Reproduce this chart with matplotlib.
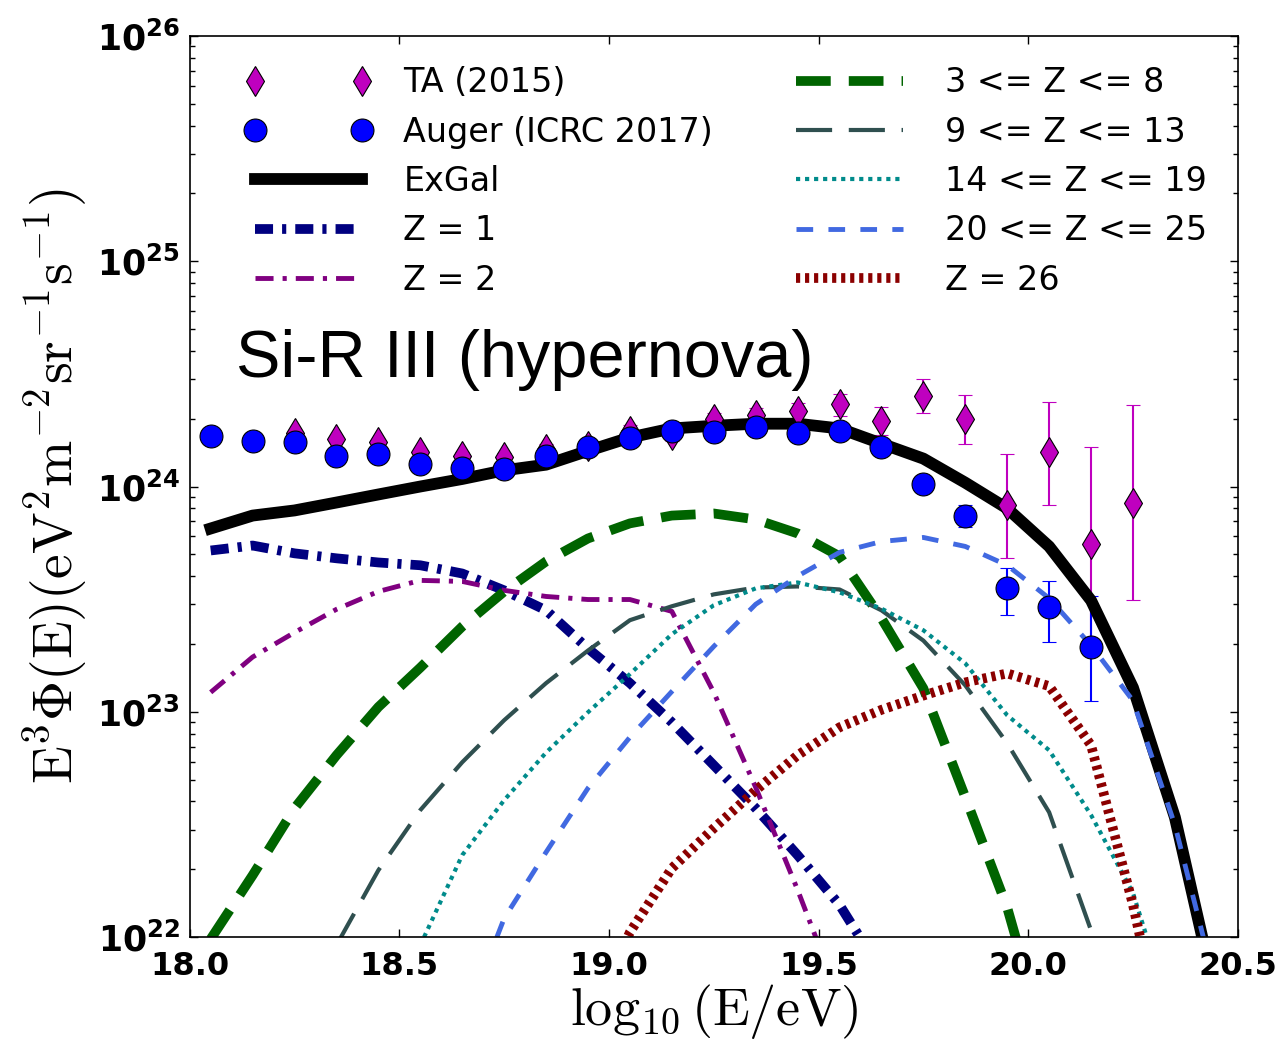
import numpy as np
import matplotlib
matplotlib.use("Agg")
import matplotlib.pyplot as plt
from matplotlib.ticker import LogLocator, NullFormatter

nan = np.nan

# bin centres, log10(E/eV)
log_e = [18.05, 18.15, 18.25, 18.35, 18.45, 18.55, 18.65, 18.75, 18.85, 18.95,
         19.05, 19.15, 19.25, 19.35, 19.45, 19.55, 19.65, 19.75, 19.85, 19.95,
         20.05, 20.15, 20.25, 20.35, 20.45]

# model components, E^3 Phi(E)
exgal = [6.51e23, 7.43e23, 7.83e23, 8.49e23, 9.22e23, 1.00e24, 1.08e24, 1.18e24, 1.25e24, 1.44e24,
         1.65e24, 1.81e24, 1.86e24, 1.90e24, 1.90e24, 1.81e24, 1.55e24, 1.33e24, 1.04e24, 7.99e23,
         5.42e23, 3.12e23, 1.28e23, 3.40e22, 5.2e21]
z1 = [5.20e23, 5.47e23, 5.05e23, 4.80e23, 4.60e23, 4.47e23, 4.11e23, 3.46e23, 2.82e23, 1.91e23,
      1.34e23, 8.98e22, 5.79e22, 3.73e22, 2.31e22, 1.39e22, 7.0e21, nan, nan, nan,
      nan, nan, nan, nan, nan]
z2 = [1.22e23, 1.75e23, 2.25e23, 2.85e23, 3.42e23, 3.83e23, 3.79e23, 3.46e23, 3.25e23, 3.15e23,
      3.15e23, 2.79e23, 1.22e23, 4.62e22, 1.62e22, 5.3e21, nan, nan, nan, nan,
      nan, nan, nan, nan, nan]
z3_8 = [9.8e21, 1.88e22, 3.73e22, 6.41e22, 1.05e23, 1.57e23, 2.39e23, 3.42e23, 4.65e23, 5.88e23,
        6.86e23, 7.43e23, 7.59e23, 7.14e23, 6.19e23, 4.90e23, 2.60e23, 1.27e23, 4.18e22, 1.35e22,
        3.0e21, nan, nan, nan, nan]
z9_13 = [nan, nan, nan, 9.2e21, 1.98e22, 3.66e22, 5.97e22, 9.17e22, 1.34e23, 1.87e23,
         2.55e23, 2.94e23, 3.32e23, 3.56e23, 3.60e23, 3.49e23, 2.82e23, 2.07e23, 1.31e23, 7.25e22,
         3.58e22, 1.07e22, 3.0e21, nan, nan]
z14_19 = [nan, nan, nan, nan, nan, 9.2e21, 2.31e22, 4.05e22, 6.59e22, 9.95e22,
          1.47e23, 2.21e23, 2.97e23, 3.53e23, 3.75e23, 3.39e23, 2.87e23, 2.30e23, 1.64e23, 9.65e22,
          6.75e22, 3.48e22, 1.57e22, 4.0e21, nan]
z20_25 = [nan, nan, nan, nan, nan, nan, 4.0e21, 1.21e22, 2.38e22, 4.58e22,
          7.71e22, 1.23e23, 1.95e23, 3.00e23, 4.00e23, 5.10e23, 5.70e23, 5.94e23, 5.42e23, 4.47e23,
          3.19e23, 1.97e23, 1.12e23, 3.14e22, 5.8e21]
z26 = [nan, nan, nan, nan, nan, nan, nan, nan, nan, 4.0e21,
       1.05e22, 2.02e22, 3.04e22, 4.48e22, 6.41e22, 8.53e22, 1.02e23, 1.18e23, 1.35e23, 1.48e23,
       1.30e23, 7.10e22, 1.39e22, 2.0e21, nan]

# Telescope Array (2015)
ta_e = [18.25, 18.35, 18.45, 18.55, 18.65, 18.75, 18.85, 18.95, 19.05, 19.15, 19.25,
        19.35, 19.45, 19.55, 19.65, 19.75, 19.85, 19.95, 20.05, 20.15, 20.25]
ta_v = [1.72e24, 1.63e24, 1.57e24, 1.42e24, 1.37e24, 1.35e24, 1.47e24, 1.52e24, 1.77e24, 1.70e24, 2.00e24,
        2.07e24, 2.17e24, 2.33e24, 1.96e24, 2.53e24, 2.00e24, 8.24e23, 1.42e24, 5.53e23, 8.41e23]
ta_lo = [1.67e24, 1.58e24, 1.52e24, 1.37e24, 1.32e24, 1.29e24, 1.40e24, 1.44e24, 1.67e24, 1.59e24, 1.87e24,
         1.92e24, 1.99e24, 2.05e24, 1.70e24, 2.11e24, 1.54e24, 4.80e23, 8.24e23, 2.07e23, 3.12e23]
ta_hi = [1.77e24, 1.68e24, 1.62e24, 1.47e24, 1.42e24, 1.41e24, 1.54e24, 1.60e24, 1.87e24, 1.81e24, 2.13e24,
         2.22e24, 2.35e24, 2.58e24, 2.26e24, 3.01e24, 2.56e24, 1.39e24, 2.38e24, 1.50e24, 2.31e24]

# Pierre Auger (ICRC 2017)
auger_e = [18.05, 18.15, 18.25, 18.35, 18.45, 18.55, 18.65, 18.75, 18.85, 18.95, 19.05,
           19.15, 19.25, 19.35, 19.45, 19.55, 19.65, 19.75, 19.85, 19.95, 20.05, 20.15]
auger_v = [1.68e24, 1.60e24, 1.58e24, 1.37e24, 1.39e24, 1.26e24, 1.21e24, 1.20e24, 1.36e24, 1.49e24, 1.65e24,
           1.77e24, 1.75e24, 1.83e24, 1.72e24, 1.77e24, 1.50e24, 1.03e24, 7.43e23, 3.53e23, 2.91e23, 1.93e23]
auger_lo = [1.66e24, 1.58e24, 1.56e24, 1.35e24, 1.37e24, 1.24e24, 1.19e24, 1.18e24, 1.34e24, 1.47e24, 1.62e24,
            1.73e24, 1.71e24, 1.78e24, 1.67e24, 1.70e24, 1.43e24, 9.7e23, 6.58e23, 2.68e23, 2.05e23, 1.12e23]
auger_hi = [1.70e24, 1.62e24, 1.60e24, 1.39e24, 1.41e24, 1.28e24, 1.23e24, 1.22e24, 1.38e24, 1.51e24, 1.68e24,
            1.81e24, 1.79e24, 1.88e24, 1.77e24, 1.84e24, 1.57e24, 1.09e24, 8.3e23, 4.33e23, 3.79e23, 3.25e23]

y_decades = [22, 23, 24, 25, 26]
x_ticks = [18.0, 18.5, 19.0, 19.5, 20.0, 20.5]

plt.rcParams['lines.scale_dashes'] = False
plt.rcParams['mathtext.fontset'] = 'cm'

fig = plt.figure(figsize=(12.82, 10.43), dpi=100)
ax = fig.add_axes([0.148, 0.1016, 0.8175, 0.8639])

ta = ax.errorbar(ta_e, ta_v,
                 yerr=[np.array(ta_v) - np.array(ta_lo), np.array(ta_hi) - np.array(ta_v)],
                 fmt='d', color='m', mec='k', mew=0.8, ms=15.5, ecolor='m',
                 elinewidth=1.5, capsize=5, capthick=1.5)
au = ax.errorbar(auger_e, auger_v,
                 yerr=[np.array(auger_v) - np.array(auger_lo), np.array(auger_hi) - np.array(auger_v)],
                 fmt='o', color='b', mec='k', mew=0.8, ms=16.5, ecolor='b',
                 elinewidth=1.5, capsize=5, capthick=1.5)

h_ex, = ax.plot(log_e, exgal, color='k', lw=8.5, label='ExGal')
h1, = ax.plot(log_e, z1, color='navy', lw=7, ls=(0, (13, 6.5, 3, 6.5)), label='Z = 1')
h2, = ax.plot(log_e, z2, color='purple', lw=3.5, ls=(0, (13, 6.5, 3, 6.5)), label='Z = 2')
h3, = ax.plot(log_e, z3_8, color='darkgreen', lw=7, ls=(0, (25, 13)), label='3 <= Z <= 8')
h4, = ax.plot(log_e, z9_13, color='darkslategray', lw=3, ls=(0, (26, 12)), label='9 <= Z <= 13')
h5, = ax.plot(log_e, z14_19, color='darkcyan', lw=3, ls=(0, (3, 3.5)), label='14 <= Z <= 19')
h6, = ax.plot(log_e, z20_25, color='royalblue', lw=3.5, ls=(0, (12, 11)), label='20 <= Z <= 25')
h7, = ax.plot(log_e, z26, color='darkred', lw=7, ls=(0, (3, 3.5)), label='Z = 26')

ax.set_yscale('log')
ax.set_xlim(18.0, 20.5)
ax.set_ylim(1e22, 1e26)

ax.set_xticks(x_ticks, [f'{t:.1f}' for t in x_ticks], fontsize=23, fontweight='bold')
ax.set_yticks([10.0 ** d for d in y_decades],
              [r'$\mathbf{10^{%d}}$' % d for d in y_decades],
              fontsize=25, math_fontfamily='dejavusans')
ax.yaxis.set_minor_locator(LogLocator(base=10, subs=np.arange(2, 10)))
ax.yaxis.set_minor_formatter(NullFormatter())
ax.tick_params(which='both', direction='in', top=True, right=True, width=1)
ax.tick_params(which='major', length=6)
ax.tick_params(axis='x', which='major', pad=10)
ax.tick_params(axis='y', which='major', pad=7)
ax.tick_params(which='minor', length=3.5)
for s in ax.spines.values():
    s.set_linewidth(1.2)

ax.set_xlabel(r'$\mathrm{\log_{10}(E/eV)}$', fontsize=39, math_fontfamily='cm', labelpad=0)
ax.set_ylabel(r'$\mathrm{E^3\Phi(E)(eV^2m^{-2}sr^{-1}s^{-1})}$', fontsize=40,
              math_fontfamily='cm', labelpad=4)

ax.text(0.044, 0.622, 'Si-R III (hypernova)', transform=ax.transAxes,
        fontsize=48, family='Liberation Sans', va='baseline', ha='left')

handles = [ta.lines[0], au.lines[0], h_ex, h1, h2, h3, h4, h5, h6, h7]
labels = ['TA (2015)', 'Auger (ICRC 2017)', 'ExGal', 'Z = 1', 'Z = 2',
          '3 <= Z <= 8', '9 <= Z <= 13', '14 <= Z <= 19', '20 <= Z <= 25', 'Z = 26']
ax.legend(handles, labels, loc='upper left', bbox_to_anchor=(0.040, 0.981),
          borderaxespad=0, ncol=2, frameon=False, fontsize=24, numpoints=2,
          handlelength=3.8, handletextpad=0.95, columnspacing=2.2, labelspacing=0.49)

fig.savefig('out.png', dpi=100)
